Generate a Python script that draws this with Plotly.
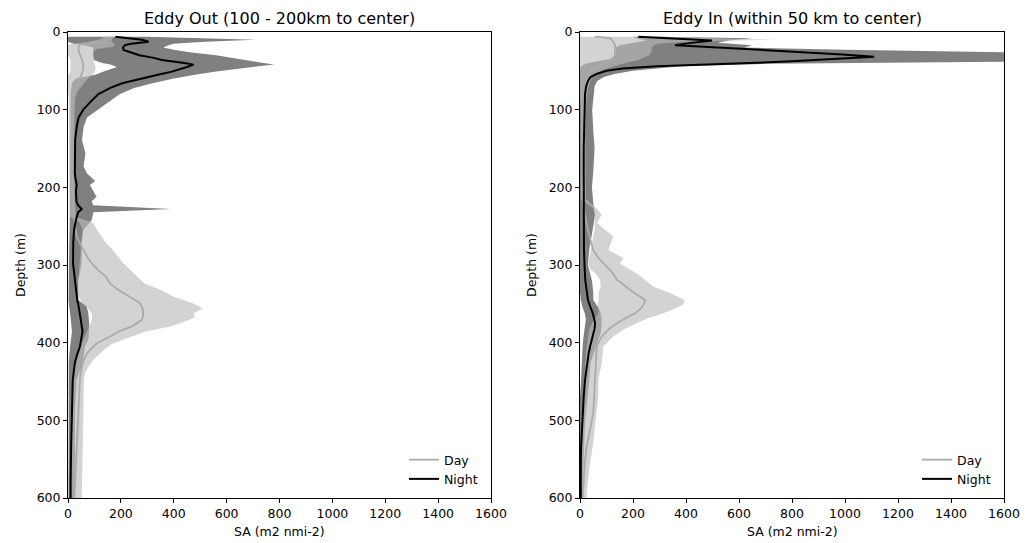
import plotly.graph_objects as go

# ---------------- Eddy Out (left panel) ----------------
out_night_depth = [6, 8, 10, 12.5, 15, 17, 20, 23, 26, 30, 33, 36, 40, 42, 45, 48, 51, 55, 60, 66, 72, 80, 90, 100,
                   110, 122, 139, 156, 173, 182, 188, 192, 197, 205, 212, 218, 223, 228, 232, 242, 255, 270, 298,
                   320, 345, 353, 362, 375, 385, 396, 405, 415, 426, 448, 470, 491, 530, 577, 600]
out_night_mean = [179, 230, 280, 305, 240, 215, 208, 210, 240, 270, 320, 355, 440, 475, 450, 420, 393, 340, 275, 205,
                  160, 115, 85, 58, 40, 33, 27, 26, 26, 26, 28, 30, 33, 30, 30, 32, 38, 52, 38, 30, 23, 20, 19,
                  26, 35, 40, 45, 52, 55, 50, 45, 35, 26, 18, 16, 14, 12, 10, 10]
out_night_high = [300, 550, 713, 520, 400, 380, 360, 400, 460, 560, 620, 670, 740, 780, 700, 620, 560, 480, 400, 320,
                  250, 195, 155, 116, 72, 59, 53, 66, 59, 71, 91, 103, 83, 95, 108, 90, 95, 390, 96, 90, 58, 52, 52,
                  39, 39, 70, 77, 80, 80, 77, 64, 60, 55, 33, 28, 26, 26, 25, 25]
out_night_low = [0, 0, 0, 0, 20, 60, 95, 95, 95, 95, 95, 97, 130, 160, 185, 165, 135, 103, 30, 15,
                 12, 10, 8, 8, 8, 8, 8, 8, 8, 8, 8, 8, 8, 8, 8, 8, 8, 8, 8, 7, 6, 5, 5,
                 3, 2, 5, 8, 12, 15, 12, 8, 5, 3, 2, 2, 2, 2, 2, 2]

out_day_depth = [6, 9, 12.5, 16, 19, 22, 26, 30, 34, 38, 42, 47, 52, 56, 60, 66, 72, 77, 85, 100, 130, 160, 190, 220,
                 238, 246, 255, 263, 270, 281, 290, 298, 307, 315, 324, 332, 341, 349, 356, 362, 367, 371, 379, 386,
                 392, 401, 408, 414, 422, 431, 439, 448, 470, 491, 512, 534, 556, 577, 600]
out_day_mean = [159, 155, 146, 45, 40, 39, 42, 47, 52, 55, 57, 58, 54, 50, 45, 35, 26, 20, 17, 15, 14, 15, 16, 18,
                22, 26, 29, 33, 42, 58, 73, 90, 115, 143, 160, 190, 234, 272, 282, 285, 283, 279, 241, 190,
                159, 108, 88, 71, 60, 52, 48, 45, 42, 39, 36, 33, 30, 26, 24]
out_day_high = [175, 165, 165, 180, 170, 110, 95, 95, 95, 98, 100, 105, 100, 90, 75, 60, 45, 35, 28, 25, 24, 24, 25, 26,
                30, 95, 110, 125, 140, 170, 190, 210, 238, 262, 290, 350, 400, 470, 510, 475, 480, 455, 390, 290,
                240, 170, 140, 120, 96, 78, 64, 60, 58, 58, 57, 56, 55, 52, 52]
out_day_low = [135, 125, 80, 0, 0, 0, 0, 0, 8, 10, 10, 10, 8, 0, 0, 0, 0, 0, 3, 5, 5, 5, 5, 5,
               8, 45, 55, 52, 50, 48, 45, 45, 42, 40, 39, 39, 39, 55, 75, 90, 90, 90, 80, 72,
               65, 50, 40, 35, 30, 25, 22, 20, 18, 15, 14, 12, 12, 10, 10]

# ---------------- Eddy In (right panel) ----------------
in_night_depth = [6, 8, 11, 14, 17, 20, 23, 26, 29, 32, 35, 38, 41, 44, 47, 50, 54, 58, 63, 70, 80, 100, 126, 150,
                  180, 200, 220, 235, 250, 280, 300, 320, 335, 345, 355, 362, 370, 375, 382, 388, 396, 405, 415,
                  426, 448, 470, 491, 512, 534, 556, 577, 600]
in_night_mean = [220, 330, 498, 420, 359, 520, 680, 850, 990, 1110, 950, 780, 560, 290, 160, 100, 62, 40, 30, 23, 19,
                 17, 15, 14, 14, 14, 15, 15, 15, 15, 17, 20, 26, 30, 40, 48, 54, 57, 55, 50, 44, 38, 32,
                 27, 19, 14, 10, 7, 4, 3, 3, 3]
in_night_high = [300, 650, 560, 520, 650, 620, 1000, 1700, 2500, 2800, 2600, 1700, 700, 380, 300, 200, 130, 90, 65,
                 55, 52, 46, 50, 55, 50, 45, 50, 57, 50, 35, 30, 45, 50, 50, 70, 78, 82, 82, 80, 78, 70, 60, 50,
                 40, 35, 28, 22, 18, 15, 12, 10, 8]
in_night_low = [200, 210, 250, 200, 150, 135, 135, 135, 135, 130, 110, 60, 20, 5, 0, 0, 0, 0, 0, 0, 0, 0, 0, 0,
                0, 0, 0, 0, 0, 0, 0, 0, 0, 3, 10, 18, 22, 22, 20, 15, 12, 10, 8,
                6, 4, 0, 0, 0, 0, 0, 0, 0]

in_day_depth = [6, 8, 10, 12, 15, 17, 20, 25, 30, 36, 42, 49, 55, 62, 70, 83, 100, 130, 160, 190, 215, 227, 235, 246,
                255, 263, 272, 281, 291, 298, 306, 311, 319, 328, 336, 345, 351, 356, 362, 368, 375, 383, 392, 405,
                426, 448, 469, 491, 512, 534, 555, 577, 594, 600]
in_day_mean = [57, 113, 120, 125, 130, 132, 132, 132, 132, 120, 82, 44, 32, 25, 22, 19, 14, 10, 9, 9, 10, 14, 18, 25,
               30, 36, 43, 50, 70, 90, 113, 125, 139, 175, 205, 246, 240, 230, 208, 175, 139, 108, 82, 63,
               60, 57, 54, 50, 38, 25, 18, 13, 10, 10]
in_day_high = [300, 500, 740, 420, 290, 280, 270, 270, 260, 220, 150, 85, 55, 40, 32, 26, 22, 20, 20, 20, 22, 62, 82, 65,
               95, 126, 115, 107, 164, 151, 190, 214, 245, 277, 340, 395, 390, 360, 314, 260, 214, 165, 126, 88,
               82, 69, 69, 62, 57, 48, 38, 30, 25, 25]
in_day_low = [0, 0, 0, 0, 0, 0, 0, 0, 0, 0, 0, 0, 0, 0, 0, 0, 3, 3, 3, 3, 3, 50, 55, 55,
              55, 50, 45, 40, 35, 32, 40, 60, 75, 78, 70, 70, 68, 70, 70, 60, 45, 35, 30, 25,
              20, 18, 15, 12, 10, 8, 5, 3, 2, 2]

x_ticks = [0, 200, 400, 600, 800, 1000, 1200, 1400, 1600]
y_ticks = [0, 100, 200, 300, 400, 500, 600]
titles = ["Eddy Out (100 - 200km to center)", "Eddy In (within 50 km to center)"]

W, H = 1031, 543
FONT = "DejaVu Sans"
FS = 12.5
NIGHT_FILL = "rgb(128,128,128)"
DAY_FILL = "rgba(186,186,186,0.64)"
DAY_LINE = "rgb(170,170,170)"

fig = go.Figure()


def band(depth, low, high, color, xa, ya):
    return go.Scatter(x=list(high) + list(low)[::-1], y=list(depth) + list(depth)[::-1],
                      fill="toself", fillcolor=color, line=dict(width=0), mode="lines",
                      hoverinfo="skip", showlegend=False, xaxis=xa, yaxis=ya)


panels = [
    ("x", "y", "legend", out_day_depth, out_day_mean, out_day_low, out_day_high,
     out_night_depth, out_night_mean, out_night_low, out_night_high),
    ("x2", "y2", "legend2", in_day_depth, in_day_mean, in_day_low, in_day_high,
     in_night_depth, in_night_mean, in_night_low, in_night_high),
]
for xa, ya, lg, dd, dm, dl, dh, nd, nm, nl, nh in panels:
    fig.add_trace(band(nd, nl, nh, NIGHT_FILL, xa, ya))
    fig.add_trace(band(dd, dl, dh, DAY_FILL, xa, ya))
    fig.add_trace(go.Scatter(x=dm, y=dd, mode="lines", name="Day", line=dict(color=DAY_LINE, width=1.8),
                             xaxis=xa, yaxis=ya, legend=lg))
    fig.add_trace(go.Scatter(x=nm, y=nd, mode="lines", name="Night", line=dict(color="black", width=2),
                             xaxis=xa, yaxis=ya, legend=lg))

px_x = lambda p: p / W
px_y = lambda p: 1 - p / H

ax_common = dict(showgrid=False, zeroline=False, showline=True, linecolor="black", linewidth=1, mirror=True,
                 ticks="outside", ticklen=4, tickwidth=1, tickcolor="black",
                 tickfont=dict(family=FONT, size=FS, color="black"), automargin=False)
fig.update_layout(
    width=W, height=H, margin=dict(l=0, r=0, t=0, b=0),
    paper_bgcolor="white", plot_bgcolor="white",
    font=dict(family=FONT, size=FS, color="black"),
    xaxis=dict(domain=[px_x(68), px_x(491)], range=[0, 1600], tickvals=x_ticks, anchor="y", **ax_common),
    yaxis=dict(domain=[px_y(498), px_y(32)], range=[600, 0], tickvals=y_ticks, anchor="x", **ax_common),
    xaxis2=dict(domain=[px_x(580), px_x(1004)], range=[0, 1600], tickvals=x_ticks, anchor="y2", **ax_common),
    yaxis2=dict(domain=[px_y(498), px_y(32)], range=[600, 0], tickvals=y_ticks, anchor="x2", **ax_common),
    legend=dict(x=px_x(404), y=px_y(494), xanchor="left", yanchor="bottom", bgcolor="rgba(0,0,0,0)",
                font=dict(family=FONT, size=FS), tracegroupgap=0),
    legend2=dict(x=px_x(917), y=px_y(494), xanchor="left", yanchor="bottom", bgcolor="rgba(0,0,0,0)",
                 font=dict(family=FONT, size=FS), tracegroupgap=0),
)

ann = []
for cx, t in [((68 + 491) / 2, titles[0]), ((580 + 1004) / 2, titles[1])]:
    ann.append(dict(x=px_x(cx), y=px_y(18), xref="paper", yref="paper", text=t, showarrow=False,
                    xanchor="center", yanchor="middle", font=dict(family=FONT, size=16)))
    ann.append(dict(x=px_x(cx), y=px_y(531), xref="paper", yref="paper", text="SA (m2 nmi-2)", showarrow=False,
                    xanchor="center", yanchor="middle", font=dict(family=FONT, size=FS)))
for lx in [20, 531]:
    ann.append(dict(x=px_x(lx), y=px_y(265), xref="paper", yref="paper", text="Depth (m)", showarrow=False,
                    textangle=-90, xanchor="center", yanchor="middle", font=dict(family=FONT, size=FS)))
fig.update_layout(annotations=ann)

fig.write_html("out.html")
